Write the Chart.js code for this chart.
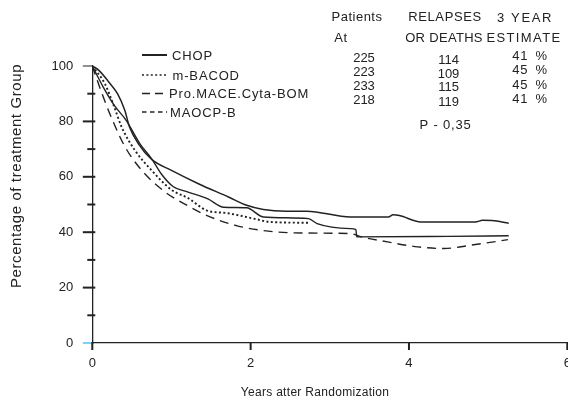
<!DOCTYPE html>
<html>
<head>
<meta charset="utf-8">
<script src="https://cdn.jsdelivr.net/npm/chart.js@4"></script>
<style>
  html, body { margin: 0; padding: 0; background: #fff; }
  canvas { display: block; }
</style>
</head>
<body>
<canvas id="kmChart" width="568" height="398"></canvas>
<script>
// ── Data ──────────────────────────────────────────────────
const seriesNames = ['CHOP', 'm-BACOD', 'Pro.MACE.Cyta-BOM', 'MAOCP-B'];

const chopX = [0, 0.08, 0.2, 0.32, 0.41, 0.47, 0.58, 0.75, 1.0, 1.34, 1.72, 1.95, 2.16, 2.45, 2.71, 3.26, 3.74, 3.8, 3.88, 4.15, 4.84, 4.93, 5.05, 5.26];
const chopY = [100, 98.5, 94.5, 89.9, 84, 78, 72, 66.3, 62.3, 57.5, 52.7, 49.7, 48.2, 47.6, 47.6, 45.5, 45.5, 46.3, 46, 43.7, 43.7, 44.3, 44.2, 43.2];

const mbacodX = [0, 0.16, 0.28, 0.37, 0.54, 0.75, 1.0, 1.21, 1.45, 1.7, 2.04, 2.25, 2.75];
const mbacodY = [100, 93.5, 85, 78, 69.5, 62.3, 55.3, 52.3, 47.8, 46.9, 44.9, 43.7, 43.4];

const promaceX = [0, 0.11, 0.24, 0.41, 0.62, 0.92, 1.21, 1.45, 1.83, 2.25, 2.67, 3.26, 3.4, 3.73, 4.11, 4.44, 4.78, 5.25];
const promaceY = [100, 91, 81.5, 71, 62.5, 54.5, 49.5, 46, 42.3, 40.3, 39.7, 39.5, 38.3, 36.5, 34.7, 34.1, 35.3, 37.3];

const macopX = [0, 0.14, 0.28, 0.43, 0.6, 0.75, 0.87, 1.02, 1.21, 1.46, 1.66, 1.95, 2.16, 2.73, 2.84, 3.26, 3.33, 3.34, 4.5, 5.26];
const macopY = [100, 92.3, 85.7, 80.3, 72, 66.5, 61.1, 56.5, 54.5, 52, 49, 48.8, 45.5, 44.9, 43.1, 41.3, 40.9, 38.3, 38.5, 38.7];

const patientsAt       = [225, 223, 233, 218];
const relapsesOrDeaths = [114, 109, 115, 119];
const threeYearPct     = [41, 45, 45, 41];
const pValue           = '0,35';

const xTicks      = [0, 2, 4, 6];
const yTicks      = [0, 20, 40, 60, 80, 100];
const yMinorTicks = [10, 30, 50, 70, 90];

// ── Styles ────────────────────────────────────────────────
const INK  = '#222';
const FONT = "'Liberation Sans', Arial, sans-serif";

const lineStyles = [
  { width: 1.5, dash: [],       legendDash: [] },
  { width: 1.9, dash: [2, 2.4], legendDash: [2, 2.4] },
  { width: 1.4, dash: [9, 6],   legendDash: [8, 5] },
  { width: 1.4, dash: [],       legendDash: [4.5, 3.5] }
];

const toPoints = (xs, ys) => xs.map((x, i) => ({ x, y: ys[i] }));
const seriesData = [
  toPoints(chopX, chopY),
  toPoints(mbacodX, mbacodY),
  toPoints(promaceX, promaceY),
  toPoints(macopX, macopY)
];

function label(ctx, str, x, y, size, align, spacing) {
  ctx.save();
  ctx.font = size + 'px ' + FONT;
  ctx.letterSpacing = (spacing || 0) + 'px';
  ctx.textAlign = align || 'left';
  ctx.textBaseline = 'middle';
  ctx.fillStyle = INK;
  ctx.fillText(str, x, y);
  ctx.restore();
}

function seg(ctx, x1, y1, x2, y2, w, color, dash) {
  ctx.save();
  ctx.beginPath();
  ctx.lineWidth = w;
  ctx.strokeStyle = color || INK;
  ctx.setLineDash(dash || []);
  ctx.moveTo(x1, y1);
  ctx.lineTo(x2, y2);
  ctx.stroke();
  ctx.restore();
}

// ── Extras: tick marks, legend, table, axis titles ───────
const extras = {
  id: 'extras',
  afterDraw(chart) {
    const ctx = chart.ctx;
    const xs = chart.scales.x, ys = chart.scales.y;
    const ax = xs.getPixelForValue(0);
    const ay = ys.getPixelForValue(0);

    // y ticks
    yTicks.forEach(v => {
      const py = ys.getPixelForValue(v);
      if (v === 0)        seg(ctx, ax - 9.5, py, ax, py, 1.5, '#4fc3f7');
      else if (v === 100) seg(ctx, ax - 9.5, py, ax, py, 1);
      else                seg(ctx, ax - 9.5, py, ax + 3, py, 2);
    });
    yMinorTicks.forEach(v => {
      const py = ys.getPixelForValue(v);
      seg(ctx, ax - 5, py, ax + 3, py, 2);
    });
    // x ticks
    xTicks.forEach(v => {
      const px = xs.getPixelForValue(v);
      seg(ctx, px, ay - 1, px, ay + 7, 2);
    });

    // legend
    const legendY = [55, 75, 93.5, 112];
    const legendTextX = [172, 172.5, 169, 170];
    seriesNames.forEach((name, i) => {
      const st = lineStyles[i];
      const y = legendY[i];
      seg(ctx, 142, y, 167, y, i === 0 ? 2 : 1.5, INK, st.legendDash);
      label(ctx, name, legendTextX[i], y + 1, 13, 'left', 0.85);
    });

    // table headers
    label(ctx, 'Patients',  357, 17, 13, 'center', 0.5);
    label(ctx, 'At',        341, 38, 13, 'center', 0.5);
    label(ctx, 'RELAPSES',  445, 17, 13, 'center', 0.6);
    label(ctx, 'OR DEATHS', 444, 38, 13, 'center', 0.3);
    label(ctx, '3 YEAR',    525, 18, 13, 'center', 1.6);
    label(ctx, 'ESTIMATE',  524, 38, 13, 'center', 1.4);

    const rowY1 = [58.3, 72.7, 86.7, 100.7];
    const rowY2 = [60, 74, 87.8, 102];
    const rowY3 = [56.7, 70.7, 85, 99.3];
    patientsAt.forEach((v, i) => label(ctx, String(v), 364, rowY1[i], 13, 'center'));
    relapsesOrDeaths.forEach((v, i) => label(ctx, String(v), 448.5, rowY2[i], 13, 'center'));
    threeYearPct.forEach((v, i) => label(ctx, v + '\u2002%', 530, rowY3[i], 13, 'center', 0.8));
    label(ctx, 'P - ' + pValue, 445.5, 125, 13, 'center', 0.8);

    // axis titles
    ctx.save();
    ctx.translate(17, 176);
    ctx.rotate(-Math.PI / 2);
    label(ctx, 'Percentage of treatment Group', 0, 0, 15, 'center', 0.6);
    ctx.restore();
    label(ctx, 'Years atter Randomization', 315, 392.5, 12, 'center', 0.3);
  }
};

// ── Chart ─────────────────────────────────────────────────
new Chart(document.getElementById('kmChart'), {
  type: 'line',
  data: {
    datasets: seriesNames.map((name, i) => ({
      label:            name,
      data:             seriesData[i],
      borderColor:      INK,
      borderWidth:      lineStyles[i].width,
      borderDash:       lineStyles[i].dash,
      pointRadius:      0,
      fill:             false,
      cubicInterpolationMode: 'monotone'
    }))
  },
  options: {
    responsive: false,
    animation:  false,
    layout: { padding: { top: 66, right: 0.7, left: 0, bottom: 0 } },
    plugins: {
      legend:  { display: false },
      tooltip: { enabled: false }
    },
    scales: {
      x: {
        type: 'linear',
        min: 0,
        max: 6,
        grid:   { display: false, drawTicks: false },
        border: { color: INK, width: 1.3 },
        ticks:  {
          stepSize: 2,
          padding: 13,
          color: INK,
          font: { family: FONT, size: 13 }
        },
        afterFit: s => { s.height = 55; s.paddingLeft = 0; s.paddingRight = 0; }
      },
      y: {
        min: 0,
        max: 100,
        grid:   { display: false, drawTicks: false },
        border: { color: INK, width: 1.3 },
        ticks:  {
          stepSize: 20,
          padding: 19,
          color: INK,
          font: { family: FONT, size: 13 }
        },
        afterFit: s => { s.width = 92.3; s.paddingTop = 0; s.paddingBottom = 0; }
      }
    }
  },
  plugins: [extras]
});
</script>
</body>
</html>
